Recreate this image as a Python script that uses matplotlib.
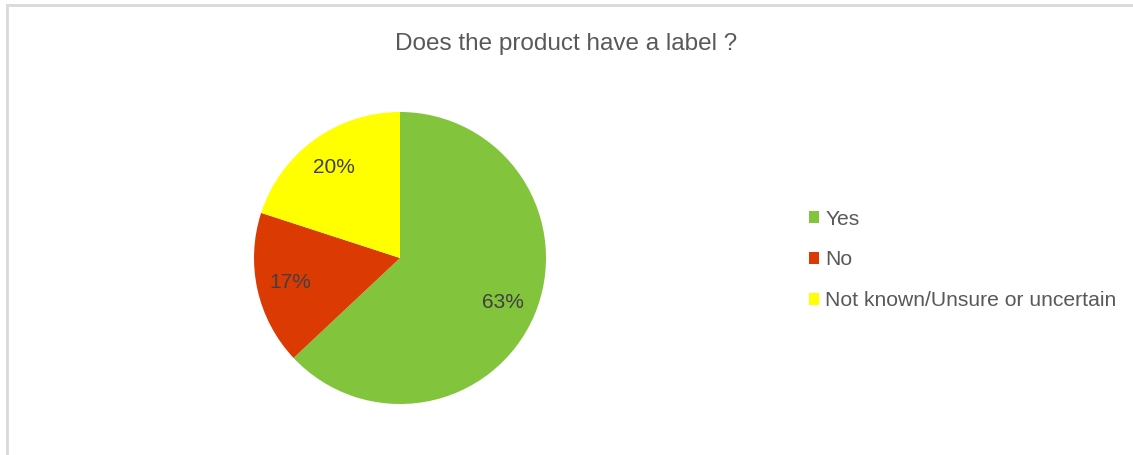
"""
Pie chart: share of products that carry a label.
Saves out.png (1133x455).
"""

import matplotlib
matplotlib.use("Agg")
import matplotlib.pyplot as plt
from matplotlib.patches import Patch, Rectangle

plt.rcParams["font.family"] = ["Liberation Sans", "DejaVu Sans"]

# ── DATA ─────────────────────────────────────────────────────────────────────
answers = ["Yes", "No", "Not known/Unsure or uncertain"]
shares = [63, 17, 20]
slice_colors = ["#82C43C", "#DC3A03", "#FFFF00"]

TITLE = "Does the product have a label ?"
TEXT_GREY = "#595959"
LABEL_GREY = "#404040"

W, H = 1133, 455


def main():
    fig = plt.figure(figsize=(W / 100, H / 100), dpi=100)
    fig.patch.set_facecolor("white")

    # light chart-area border (right/bottom run off the canvas)
    fig.add_artist(Rectangle((6.5 / W, -0.1), 1.2, 1 - 5.5 / H + 0.1,
                             transform=fig.transFigure, fill=False,
                             edgecolor="#D9D9D9", linewidth=2))

    fig.text(566 / W, 1 - 44 / H, TITLE, ha="center", va="center",
             fontsize=17.5, color=TEXT_GREY)

    cx, cy, r = 400, H - 258, 146
    ax = fig.add_axes([(cx - r) / W, (cy - r) / H, 2 * r / W, 2 * r / H])
    wedges, _, autotexts = ax.pie(
        shares, colors=slice_colors, startangle=90, counterclock=False,
        autopct="%1.0f%%", pctdistance=0.77, radius=1,
        wedgeprops=dict(linewidth=0),
        textprops=dict(fontsize=15, color=LABEL_GREY))
    ax.set_xlim(-1, 1)
    ax.set_ylim(-1, 1)
    ax.set_aspect("equal")
    ax.axis("off")

    handles = [Patch(facecolor=c, edgecolor="none") for c in slice_colors]
    fig.legend(handles, answers, loc="center left",
               bbox_to_anchor=(809 / W, 1 - 260 / H), frameon=False,
               fontsize=15.2, labelcolor=TEXT_GREY,
               handlelength=0.45, handleheight=0.45, handletextpad=0.33,
               labelspacing=1.04, borderpad=0, borderaxespad=0)

    fig.savefig("out.png", dpi=100, facecolor="white")
    plt.close(fig)


if __name__ == "__main__":
    main()
